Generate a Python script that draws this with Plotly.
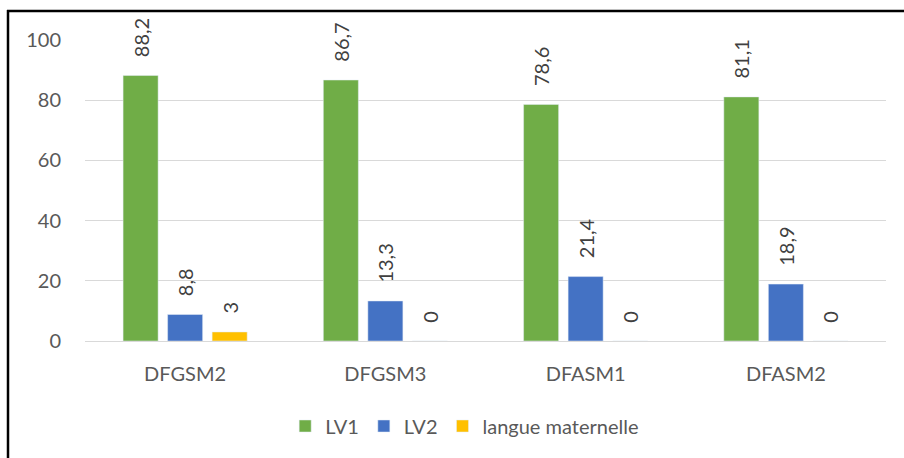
import plotly.graph_objects as go

categories = ["DFGSM2", "DFGSM3", "DFASM1", "DFASM2"]
lv1 = [88.2, 86.7, 78.6, 81.1]
lv2 = [8.8, 13.3, 21.4, 18.9]
langue = [3, 0, 0, 0]
series_names = ["LV1", "LV2", "langue maternelle"]
colors = ["#70AD47", "#4472C4", "#FFC000"]
y_ticks = [0, 20, 40, 60, 80, 100]

def fmt(v):
    return "\u00a0\u00a0\u00a0" + ("%g" % v).replace(".", ",")

FONT = "Lato, Carlito, Calibri, sans-serif"
fig = go.Figure()
for name, vals, col in zip(series_names, [lv1, lv2, langue], colors):
    fig.add_trace(go.Bar(
        x=categories, y=vals, name=name, marker_color=col,
        text=[fmt(v) for v in vals], textposition="outside", textangle=-90,
        constraintext="none",
        textfont=dict(size=20, color="#404040", family=FONT),
        cliponaxis=False,
    ))

W, H = 904, 458
ml, mr, mt, mb = 85, 18, 40, 117
pw, ph = W - ml - mr, H - mt - mb

def px(x):
    return (x - ml) / pw

def py(y):
    return (H - mb - y) / ph

fig.update_layout(
    width=W, height=H,
    margin=dict(l=ml, r=mr, t=mt, b=mb, pad=0, autoexpand=False),
    plot_bgcolor="white", paper_bgcolor="white",
    barmode="group", bargap=0.333, bargroupgap=0.213,
    font=dict(family=FONT, size=20, color="#595959"),
    showlegend=True,
    legend=dict(orientation="h", x=0.474, xanchor="center", y=py(426), yanchor="middle",
                font=dict(size=20, color="#595959", family=FONT), itemwidth=30,
                traceorder="normal"),
    xaxis=dict(showgrid=False, showline=False, ticks="", tickfont=dict(size=20),
               ticklabelstandoff=19),
    yaxis=dict(range=[0, 100], tickvals=y_ticks, showgrid=True, gridcolor="#D9D9D9",
               gridwidth=1, zeroline=True, zerolinecolor="#D9D9D9", zerolinewidth=1,
               showline=False, ticks="", tickfont=dict(size=20), ticklabelstandoff=23),
    shapes=[
        dict(type="line", xref="paper", yref="paper", x0=px(7), x1=px(905), y0=py(11), y1=py(11),
             line=dict(color="black", width=2.5)),
        dict(type="line", xref="paper", yref="paper", x0=px(8), x1=px(8), y0=py(10), y1=py(460),
             line=dict(color="black", width=2.5)),
    ],
)

fig.write_html("out.html", config={"displayModeBar": False},
               post_script="document.body.style.margin='0';")
